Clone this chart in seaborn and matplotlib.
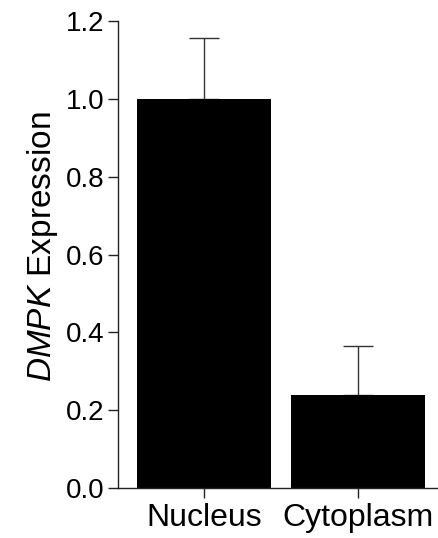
import matplotlib
matplotlib.use("Agg")
import matplotlib.pyplot as plt
import seaborn as sns
import pandas as pd

categories = ["Nucleus", "Cytoplasm"]
means = [1.0, 0.238]
errors = [0.155, 0.128]
y_ticks = [0.0, 0.2, 0.4, 0.6, 0.8, 1.0, 1.2]

sns.set_theme(style="ticks")
plt.rcParams['font.family'] = ['Liberation Sans', 'DejaVu Sans']
plt.rcParams['mathtext.fontset'] = 'custom'
plt.rcParams['mathtext.rm'] = 'Liberation Sans'
plt.rcParams['mathtext.it'] = 'Liberation Sans:italic'

df = pd.DataFrame({"Compartment": categories, "Expression": means})

fig = plt.figure(figsize=(4.39, 5.38), dpi=100)
ax = fig.add_axes([0.2688, 0.0929, 0.9977 - 0.2688, 0.961 - 0.0929])

sns.barplot(data=df, x="Compartment", y="Expression", order=categories,
            color="black", saturation=1, width=0.87, errorbar=None, ax=ax,
            edgecolor="black", linewidth=0)

ax.errorbar(range(len(categories)), means, yerr=[[0]*len(errors), errors],
            fmt="none", ecolor="#333333", elinewidth=1.0, capsize=11,
            capthick=1.0, zorder=0)

ax.set_ylim(0, 1.2)
ax.set_xlim(-0.558, 1.52)
ax.set_yticks(y_ticks)
ax.set_yticklabels([f"{v:.1f}" for v in y_ticks])
ax.set_xlabel("")
ax.set_ylabel(r"$\mathit{DMPK}$ Expression", fontsize=24, labelpad=4, color="black", y=0.517)

for side in ["top", "right"]:
    ax.spines[side].set_visible(False)
for side in ["left", "bottom"]:
    ax.spines[side].set_linewidth(1.0)
    ax.spines[side].set_color("#222222")

ax.tick_params(axis="y", labelsize=20, length=7, width=1.0, pad=3, colors="#222222", labelcolor="black")
ax.tick_params(axis="x", labelsize=23, length=7, width=1.0, pad=4, colors="#222222", labelcolor="black")

fig.savefig("out.png", dpi=100)
